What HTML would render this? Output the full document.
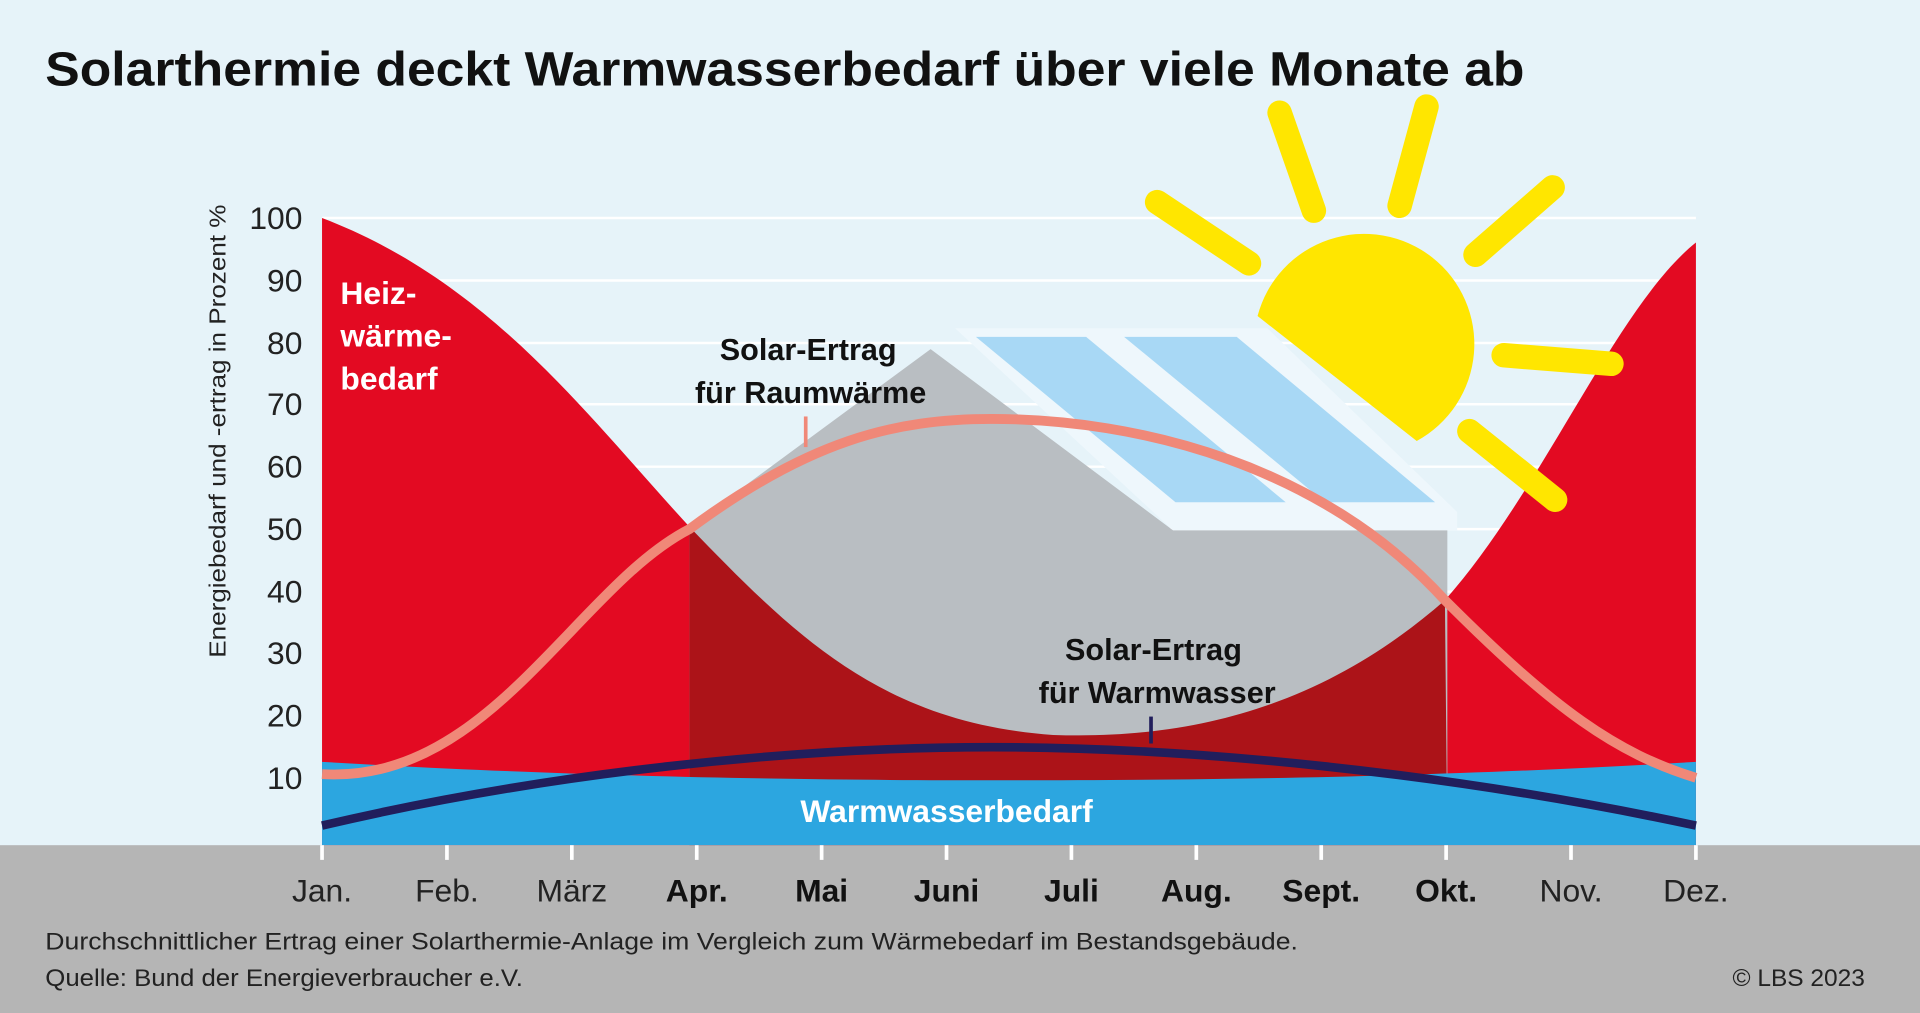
<!DOCTYPE html>
<html><head><meta charset="utf-8"><style>
html,body{margin:0;padding:0;background:#e6f3f9;}
svg{display:block;}
text{font-family:"Liberation Sans",sans-serif;}
</style></head><body>
<svg width="1920" height="1013" viewBox="0 0 1568 827" preserveAspectRatio="none" xmlns="http://www.w3.org/2000/svg">
<rect x="0" y="0" width="1568" height="827" fill="#e6f3f9"/>
<rect x="0" y="690" width="1568" height="137" fill="#b5b5b5"/>
<text x="37" y="70" font-size="39" font-weight="bold" fill="#111" textLength="1208" lengthAdjust="spacingAndGlyphs">Solarthermie deckt Warmwasserbedarf über viele Monate ab</text>
<g stroke="#ffffff" stroke-width="2">
<line x1="263" y1="178" x2="1385" y2="178"/><line x1="263" y1="229" x2="1385" y2="229"/>
<line x1="263" y1="280" x2="1385" y2="280"/><line x1="263" y1="330" x2="1385" y2="330"/>
<line x1="263" y1="381" x2="1385" y2="381"/><line x1="263" y1="432" x2="1385" y2="432"/>
<line x1="263" y1="483" x2="1385" y2="483"/><line x1="263" y1="533" x2="1385" y2="533"/>
<line x1="263" y1="584" x2="1385" y2="584"/><line x1="263" y1="635" x2="1385" y2="635"/>
</g>
<path d="M263,178 C400,230 480,340 563,430 C650,520 720,590 860,600 C1000,605 1100,560 1180,490 C1260,400 1320,250 1385,198 L1385,690 L263,690 Z" fill="#e30a22"/>
<polygon points="780,268 1035,268 1190,418 1190,433 958,433" fill="#eef7fc"/>
<polygon points="563,430 760,285 958,433 1182,433 1182,690 563,690" fill="#b9bec2"/>
<polygon points="797,275 887,275 1050,410 960,410" fill="#a8d8f5"/>
<polygon points="918,275 1010,275 1172,410 1082,410" fill="#a8d8f5"/>
<path d="M563,430 C650,520 720,590 860,600 C1000,605 1100,560 1180,490 L1182,690 L563,690 Z" fill="#ac1318"/>
<path d="M263,622 C500,636 700,637 810,637 C950,637 1150,636 1385,622 L1385,690 L263,690 Z" fill="#2ca6e0"/>
<g fill="#ffe600" stroke="#ffe600">
<path d="M1027,258 L1157,360 A90,90 0 1 0 1027,258 Z" stroke="none"/>
<g stroke-width="20" stroke-linecap="round" fill="none">
<line x1="1045" y1="92" x2="1073" y2="172"/>
<line x1="1165" y1="87" x2="1143" y2="168"/>
<line x1="1268" y1="153" x2="1205" y2="208"/>
<line x1="1228" y1="290" x2="1316" y2="297"/>
<line x1="1200" y1="352" x2="1270" y2="408"/>
<line x1="945" y1="165" x2="1020" y2="215"/>
</g></g>
<path d="M263,632 C400,640 470,480 563,432 C660,360 730,342 810,342 C930,342 1080,380 1180,490 C1270,580 1320,615 1385,635" fill="none" stroke="#f08878" stroke-width="8"/>
<line x1="658" y1="340" x2="658" y2="365" stroke="#f08878" stroke-width="3"/>
<path d="M263,674 C450,630 650,610 810,610 C970,610 1180,630 1385,674" fill="none" stroke="#211e5c" stroke-width="7"/>
<line x1="940" y1="585" x2="940" y2="607" stroke="#211e5c" stroke-width="3"/>
<g font-weight="bold" font-size="26" fill="#fff">
<text x="278" y="248">Heiz-</text><text x="278" y="283">wärme-</text><text x="278" y="318">bedarf</text>
<text x="773" y="671" text-anchor="middle">Warmwasserbedarf</text>
</g>
<g font-weight="bold" font-size="25" fill="#111" text-anchor="middle">
<text x="660" y="294">Solar-Ertrag</text><text x="662" y="329">für Raumwärme</text>
<text x="942" y="539">Solar-Ertrag</text><text x="945" y="574">für Warmwasser</text>
</g>
<text transform="translate(184,352) rotate(-90)" font-size="19" fill="#222" text-anchor="middle" textLength="370" lengthAdjust="spacingAndGlyphs">Energiebedarf und -ertrag in Prozent %</text>
<g font-size="26" fill="#222" text-anchor="end">
<text x="247" y="187">100</text><text x="247" y="238">90</text><text x="247" y="289">80</text>
<text x="247" y="339">70</text><text x="247" y="390">60</text><text x="247" y="441">50</text>
<text x="247" y="492">40</text><text x="247" y="542">30</text><text x="247" y="593">20</text>
<text x="247" y="644">10</text>
</g>
<g stroke="#fff" stroke-width="3">
<line x1="263" y1="690" x2="263" y2="702"/><line x1="365" y1="690" x2="365" y2="702"/>
<line x1="467" y1="690" x2="467" y2="702"/><line x1="569" y1="690" x2="569" y2="702"/>
<line x1="671" y1="690" x2="671" y2="702"/><line x1="773" y1="690" x2="773" y2="702"/>
<line x1="875" y1="690" x2="875" y2="702"/><line x1="977" y1="690" x2="977" y2="702"/>
<line x1="1079" y1="690" x2="1079" y2="702"/><line x1="1181" y1="690" x2="1181" y2="702"/>
<line x1="1283" y1="690" x2="1283" y2="702"/><line x1="1385" y1="690" x2="1385" y2="702"/>
</g>
<g font-size="26" fill="#222" text-anchor="middle">
<text x="263" y="736">Jan.</text><text x="365" y="736">Feb.</text><text x="467" y="736">März</text>
<g font-weight="bold" fill="#111"><text x="569" y="736">Apr.</text><text x="671" y="736">Mai</text><text x="773" y="736">Juni</text>
<text x="875" y="736">Juli</text><text x="977" y="736">Aug.</text><text x="1079" y="736">Sept.</text><text x="1181" y="736">Okt.</text></g>
<text x="1283" y="736">Nov.</text><text x="1385" y="736">Dez.</text>
</g>
<g font-size="20" fill="#222">
<text x="37" y="775" textLength="1023" lengthAdjust="spacingAndGlyphs">Durchschnittlicher Ertrag einer  Solarthermie-Anlage im Vergleich zum Wärmebedarf im Bestandsgebäude.</text>
<text x="37" y="805" textLength="390" lengthAdjust="spacingAndGlyphs">Quelle: Bund der Energieverbraucher e.V.</text>
<text x="1523" y="805" text-anchor="end">© LBS 2023</text>
</g>
</svg>
</body></html>
